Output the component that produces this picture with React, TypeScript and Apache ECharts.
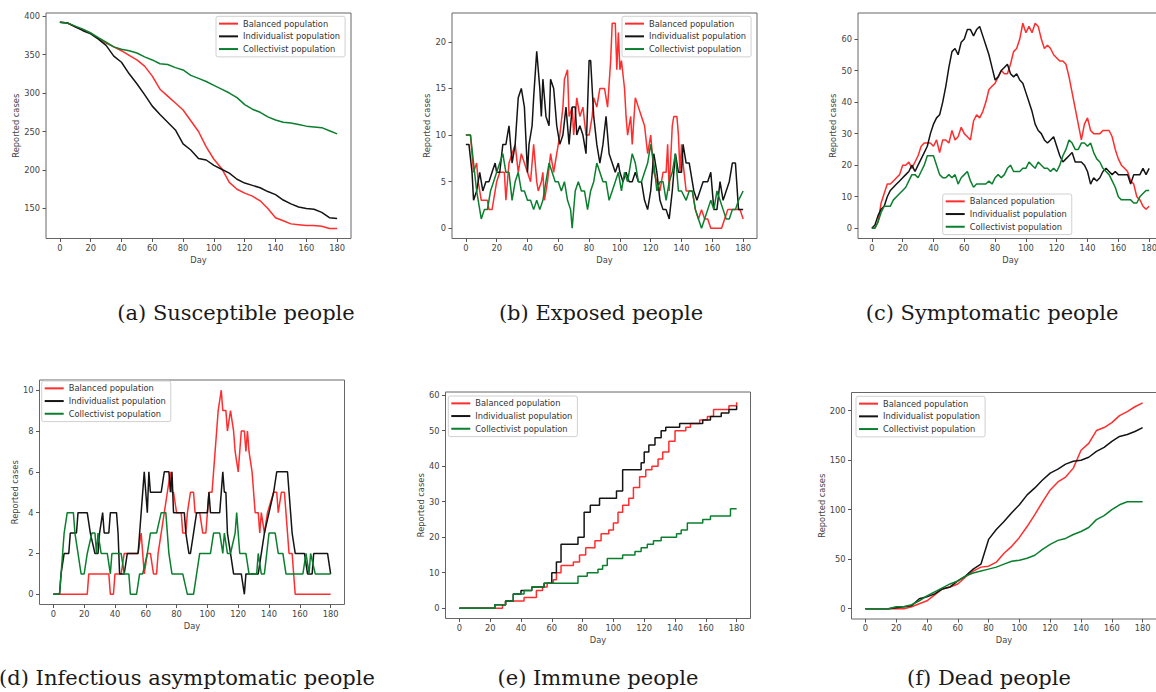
import React, { useEffect, useRef } from "react";
import * as echarts from "echarts";

// Shared series definitions
const SERIES_NAMES = ["Balanced population", "Individualist population", "Collectivist population"];
const SERIES_COLORS = ["#ff2d2d", "#141414", "#0a7f2e"];
const DAY_TICKS = [0, 20, 40, 60, 80, 100, 120, 140, 160, 180];

// (a) Susceptible people, sampled every 5 days
const suscDays = [0, 5, 10, 15, 20, 25, 30, 35, 40, 45, 50, 55, 60, 65, 70, 75, 80, 85, 90, 95, 100, 105, 110, 115, 120, 125, 130, 135, 140, 145, 150, 155, 160, 165, 170, 175, 180];
const suscBalanced = [392, 391, 386, 382, 378, 371, 365, 360, 355, 349, 343, 335, 322, 305, 296, 287, 278, 264, 250, 230, 214, 202, 184, 175, 170, 166, 160, 150, 138, 134, 130, 129, 128, 128, 127, 124, 124];
const suscIndividualist = [392, 391, 386, 381, 377, 370, 362, 348, 340, 325, 312, 298, 283, 272, 262, 252, 234, 226, 215, 213, 206, 201, 196, 188, 183, 180, 177, 172, 168, 161, 156, 152, 150, 149, 145, 138, 137];
const suscCollectivist = [392, 391, 387, 383, 378, 372, 366, 360, 357, 355, 352, 347, 343, 338, 337, 333, 330, 323, 319, 315, 310, 305, 300, 294, 285, 279, 275, 269, 265, 262, 261, 259, 257, 256, 255, 251, 247];

// (b) Exposed people, [day, cases]
const exposedBalanced = [[0,10],[3,10],[5,6],[7,7],[8,5],[10,3],[14,3],[15,2],[17,2],[20,5],[22,6],[25,6],[26,3],[28,7],[30,8],[32,9],[34,6],[36,8],[38,7],[40,6],[42,5],[44,9],[46,5],[47,4],[49,5],[50,6],[51,3],[53,5],[55,8],[57,6],[59,8],[61,10],[63,13],[64,16],[66,17],[67,12],[69,13],[70,10],[72,14],[74,12],[76,13],[78,10],[80,10],[82,12],[83,14],[85,13],[87,15],[90,15],[92,13],[94,18],[95,22],[97,22],[98,17],[99,21],[100,17],[101,18],[103,15],[104,12],[105,10],[107,12],[108,9],[110,14],[112,13],[114,12],[116,11],[118,8],[120,10],[122,6],[124,5],[126,4],[128,6],[130,6],[131,9],[132,4],[134,11],[135,12],[137,12],[138,10],[139,6],[140,9],[141,7],[143,4],[145,4],[147,4],[149,2],[151,1],[153,2],[155,1],[157,1],[159,0],[166,0],[168,1],[170,2],[175,2],[178,2],[180,1]];
const exposedIndividualist = [[0,9],[2,9],[4,6],[5,3],[7,4],[9,6],[11,4],[13,5],[15,5],[17,6],[19,7],[20,6],[22,6],[24,9],[26,9],[28,11],[30,7],[32,9],[34,14],[36,15],[38,13],[40,6],[41,9],[43,11],[44,14],[46,19],[48,15],[49,12],[50,16],[52,12],[54,11],[55,16],[57,15],[59,11],[61,9],[63,10],[65,13],[67,9],[69,13],[71,13],[72,10],[74,11],[76,10],[78,8],[80,18],[81,18],[83,12],[85,9],[87,7],[89,9],[91,12],[93,8],[95,7],[97,6],[99,7],[100,6],[102,5],[104,6],[106,5],[108,5],[110,6],[112,5],[114,5],[116,3],[118,2],[120,4],[122,8],[124,6],[126,3],[128,2],[130,2],[132,1],[134,4],[136,8],[138,6],[140,6],[141,9],[143,7],[145,7],[148,4],[150,3],[152,4],[154,5],[157,5],[159,6],[161,2],[163,2],[165,5],[167,3],[169,4],[171,5],[173,7],[175,7],[177,2],[180,2]];
const exposedCollectivist = [[0,10],[3,10],[5,7],[7,4],[9,2],[10,1],[12,2],[14,2],[16,4],[18,5],[20,6],[22,7],[24,8],[26,6],[28,6],[30,3],[32,5],[34,6],[36,4],[38,4],[40,3],[42,3],[44,2],[46,3],[48,2],[50,3],[52,5],[54,7],[56,6],[58,5],[60,5],[62,4],[64,5],[66,3],[68,2],[69,0],[71,4],[73,5],[75,4],[77,4],[79,2],[81,4],[83,5],[85,7],[87,6],[89,5],[91,5],[93,3],[95,4],[97,5],[99,6],[101,4],[103,6],[105,5],[108,8],[110,7],[112,5],[114,5],[116,6],[118,7],[120,9],[122,7],[124,4],[126,5],[128,5],[130,3],[132,5],[134,6],[136,8],[138,4],[140,4],[143,3],[145,4],[147,4],[149,2],[151,1],[153,0],[155,1],[157,2],[159,3],[161,2],[163,4],[165,3],[167,2],[169,1],[171,1],[173,2],[175,2],[177,3],[180,4]];

// (c) Symptomatic people, sampled every 2 days
const sympDays = [0,2,4,6,8,10,12,14,16,18,20,22,24,26,28,30,32,34,36,38,40,42,44,46,48,50,52,54,56,58,60,62,64,66,68,70,72,74,76,78,80,82,84,86,88,90,92,94,96,98,100,102,104,106,108,110,112,114,116,118,120,122,124,126,128,130,132,134,136,138,140,142,144,146,148,150,152,154,156,158,160,162,164,166,168,170,172,174,176,178,180];
const sympBalanced = [0,0,2,8,11,14,14,15,16,17,20,20,21,19,21,23,26,27,27,27,26,28,24,28,28,27,31,28,29,32,30,29,28,34,36,35,37,40,44,45,46,48,50,49,49,52,56,57,60,65,62,64,62,65,64,60,57,58,57,55,54,53,53,52,48,43,38,33,28,33,35,31,30,30,30,31,31,31,29,25,22,20,19,18,15,14,10,9,7,6,7];
const sympIndividualist = [0,1,4,6,7,10,12,13,14,15,16,17,18,20,18,20,22,24,26,30,33,35,36,40,45,51,56,57,55,59,60,63,63,61,63,64,61,58,55,51,47,48,50,51,52,49,48,49,47,46,43,40,37,33,31,30,28,27,28,29,26,23,21,22,23,24,21,21,21,20,18,14,16,15,16,18,19,18,17,18,17,17,17,17,14,17,17,17,19,17,19];
const sympCollectivist = [0,0,2,5,7,7,7,9,10,11,12,13,15,17,17,16,18,20,23,23,23,20,17,16,16,17,16,17,14,16,17,18,15,13,14,14,14,14,15,14,16,17,16,17,19,20,18,18,18,19,19,21,20,19,21,20,19,19,18,19,18,20,23,25,28,27,25,25,27,27,26,27,24,22,21,19,18,17,15,13,10,9,9,9,9,8,8,10,11,12,12];

// (d) Infectious asymptomatic people, [day, cases]
const asympBalanced = [[0,0],[22,0],[23,1],[36,1],[37,0],[39,0],[40,1],[44,1],[46,2],[55,2],[57,3],[59,1],[61,2],[63,2],[65,1],[67,1],[68,2],[70,3],[72,4],[74,5],[76,6],[77,5],[78,5],[80,4],[83,4],[84,3],[86,3],[87,4],[89,5],[91,5],[92,4],[95,4],[97,3],[99,3],[100,4],[101,5],[103,5],[104,6],[105,7],[106,8],[107,9],[109,10],[110,9],[112,9],[113,8],[115,9],[117,8],[118,7],[120,6],[121,7],[122,8],[124,8],[125,7],[126,8],[127,7],[129,6],[130,5],[131,4],[133,4],[134,3],[135,4],[137,3],[139,4],[143,5],[145,5],[146,4],[148,5],[150,5],[151,4],[153,2],[155,2],[156,1],[157,0],[180,0]];
const asympIndividualist = [[0,0],[4,0],[5,1],[7,2],[10,2],[11,3],[15,3],[16,4],[22,4],[24,3],[27,2],[29,2],[30,3],[32,4],[33,3],[36,3],[37,4],[41,4],[42,3],[43,1],[46,1],[48,2],[55,2],[57,4],[59,6],[61,4],[62,6],[63,5],[70,5],[72,6],[75,6],[76,5],[77,6],[78,4],[85,4],[86,3],[88,2],[89,2],[91,3],[93,4],[100,4],[101,5],[102,4],[108,4],[110,6],[111,5],[112,5],[113,3],[115,2],[117,1],[122,1],[124,0],[125,1],[133,1],[135,2],[137,3],[140,4],[143,5],[145,6],[152,6],[154,4],[155,3],[157,2],[163,2],[165,1],[168,1],[169,2],[178,2],[180,1]];
const asympCollectivist = [[0,0],[4,0],[6,2],[7,3],[9,4],[11,4],[13,4],[14,3],[16,2],[18,1],[20,1],[22,2],[25,3],[27,3],[28,2],[29,3],[31,2],[35,2],[37,1],[38,2],[44,2],[46,1],[49,1],[50,0],[54,0],[56,1],[58,1],[61,2],[63,3],[67,3],[70,4],[73,4],[75,2],[77,1],[84,1],[87,0],[91,0],[93,1],[95,2],[102,2],[104,3],[108,3],[110,2],[111,3],[113,2],[115,2],[118,3],[119,4],[121,2],[125,2],[127,1],[132,1],[133,2],[135,1],[137,1],[140,3],[144,3],[146,2],[149,2],[151,1],[162,1],[164,2],[166,1],[167,2],[170,1],[180,1]];

// (e) Immune people, cumulative step counts [day, cases]
const immuneBalanced = [[0,0],[25,0],[28,1],[30,2],[38,2],[42,3],[50,5],[54,6],[57,7],[61,8],[63,10],[66,12],[74,13],[78,15],[82,17],[88,19],[92,21],[97,22],[100,24],[103,27],[106,29],[110,31],[113,34],[117,37],[121,39],[125,40],[129,42],[132,44],[136,47],[140,50],[147,51],[150,52],[156,53],[161,54],[165,56],[175,57],[180,58]];
const immuneIndividualist = [[0,0],[22,0],[23,1],[30,2],[35,4],[40,5],[47,6],[55,7],[60,10],[63,13],[66,18],[75,18],[77,20],[81,27],[85,29],[91,31],[100,31],[102,33],[106,39],[116,39],[118,41],[120,44],[123,46],[127,48],[131,50],[134,51],[143,52],[155,52],[158,53],[163,54],[170,55],[175,56],[180,57]];
const immuneCollectivist = [[0,0],[22,0],[23,1],[30,2],[35,4],[42,5],[47,6],[55,7],[75,7],[77,9],[83,10],[90,11],[93,12],[96,14],[103,14],[106,15],[114,16],[118,17],[122,18],[126,19],[131,20],[138,20],[141,21],[144,22],[148,24],[155,24],[158,25],[163,26],[172,26],[176,28],[180,28]];

// (f) Dead people, sampled every 5 days
const deadDays = [0, 5, 10, 15, 20, 25, 30, 35, 40, 45, 50, 55, 60, 65, 70, 75, 80, 85, 90, 95, 100, 105, 110, 115, 120, 125, 130, 135, 140, 145, 150, 155, 160, 165, 170, 175, 180];
const deadBalanced = [0, 0, 0, 0, 0, 0, 2, 5, 8, 14, 20, 22, 25, 32, 38, 42, 43, 47, 56, 63, 72, 83, 95, 108, 120, 128, 133, 142, 160, 167, 180, 183, 188, 195, 199, 204, 208];
const deadIndividualist = [0, 0, 0, 0, 1, 2, 3, 10, 12, 15, 20, 22, 28, 33, 40, 45, 70, 80, 88, 97, 105, 115, 122, 130, 137, 141, 146, 149, 150, 153, 159, 163, 169, 174, 176, 179, 183];
const deadCollectivist = [0, 0, 0, 0, 2, 2, 4, 8, 13, 17, 21, 25, 28, 33, 36, 38, 40, 42, 45, 48, 49, 51, 54, 60, 65, 69, 71, 75, 78, 82, 90, 94, 100, 105, 108, 108, 108];

const zipDays = (days: number[], vals: number[]) => days.map((d, i) => [d, vals[i]]);

const panels = [
  {
    grid: { left: 46, top: 13, width: 305, height: 225.5 },
    yMin: 111, yMax: 404, yTicks: [150, 200, 250, 300, 350, 400], yNameGap: 26,
    legend: { left: 216, top: 16.3 },
    caption: { text: "(a) Susceptible people", x: 236, y: 313 },
    data: [zipDays(suscDays, suscBalanced), zipDays(suscDays, suscIndividualist), zipDays(suscDays, suscCollectivist)],
    step: false,
  },
  {
    grid: { left: 452, top: 13, width: 305, height: 225.5 },
    yMin: -1.1, yMax: 23.1, yTicks: [0, 5, 10, 15, 20], yNameGap: 21,
    legend: { left: 622, top: 16.3 },
    caption: { text: "(b) Exposed people", x: 601, y: 313 },
    data: [exposedBalanced, exposedIndividualist, exposedCollectivist],
    step: false,
  },
  {
    grid: { left: 858, top: 13, width: 305, height: 225.5 },
    yMin: -3.25, yMax: 68.25, yTicks: [0, 10, 20, 30, 40, 50, 60], yNameGap: 21,
    legend: { left: 942.7, top: 194 },
    caption: { text: "(c) Symptomatic people", x: 992, y: 313 },
    data: [zipDays(sympDays, sympBalanced), zipDays(sympDays, sympIndividualist), zipDays(sympDays, sympCollectivist)],
    step: false,
  },
  {
    grid: { left: 39.5, top: 380, width: 305, height: 224.5 },
    yMin: -0.5, yMax: 10.5, yTicks: [0, 2, 4, 6, 8, 10], yNameGap: 21,
    legend: { left: 41.7, top: 381 },
    caption: { text: "(d) Infectious asymptomatic people", x: 187, y: 678 },
    data: [asympBalanced, asympIndividualist, asympCollectivist],
    step: false,
  },
  {
    grid: { left: 445.5, top: 392, width: 305, height: 226.5 },
    yMin: -2.9, yMax: 60.9, yTicks: [0, 10, 20, 30, 40, 50, 60], yNameGap: 21,
    legend: { left: 448.3, top: 396 },
    caption: { text: "(e) Immune people", x: 598, y: 678 },
    data: [immuneBalanced, immuneIndividualist, immuneCollectivist],
    step: true,
  },
  {
    grid: { left: 851.5, top: 392.5, width: 305, height: 226.5 },
    yMin: -10.4, yMax: 218.4, yTicks: [0, 50, 100, 150, 200], yNameGap: 26,
    legend: { left: 856, top: 396.3 },
    caption: { text: "(f) Dead people", x: 989, y: 678 },
    data: [zipDays(deadDays, deadBalanced), zipDays(deadDays, deadIndividualist), zipDays(deadDays, deadCollectivist)],
    step: false,
  },
];

const SMALL_FONT = { fontFamily: "DejaVu Sans", fontSize: 8.3, color: "#444" };

export default function App() {
  const ref = useRef<HTMLDivElement>(null);

  useEffect(() => {
    if (!ref.current) return;
    const chart = echarts.init(ref.current, undefined, { renderer: "svg" });

    const grid = panels.map((p) => ({
      ...p.grid,
      show: true,
      borderColor: "#666",
      borderWidth: 1,
      backgroundColor: "transparent",
      containLabel: false,
      outerBoundsMode: "none",
    }));

    const xAxis = panels.map((p, i) => ({
      type: "value",
      gridIndex: i,
      position: "bottom",
      min: -9,
      max: 189,
      name: "Day",
      nameLocation: "middle",
      nameGap: 17,
      nameTextStyle: SMALL_FONT,
      axisLine: { show: false, onZero: false },
      splitLine: { show: false },
      axisTick: { show: true, customValues: DAY_TICKS, length: 3.5, lineStyle: { color: "#555" } },
      axisLabel: { customValues: DAY_TICKS, margin: 5, ...SMALL_FONT },
    }));

    const yAxis = panels.map((p, i) => ({
      type: "value",
      gridIndex: i,
      position: "left",
      min: p.yMin,
      max: p.yMax,
      name: "Reported cases",
      nameLocation: "middle",
      nameRotate: 90,
      nameGap: p.yNameGap,
      nameTextStyle: SMALL_FONT,
      axisLine: { show: false, onZero: false },
      splitLine: { show: false },
      axisTick: { show: true, customValues: p.yTicks, length: 3.5, lineStyle: { color: "#555" } },
      axisLabel: { customValues: p.yTicks, margin: 6, ...SMALL_FONT },
    }));

    const series: any[] = [];
    panels.forEach((p, i) => {
      p.data.forEach((d, k) => {
        series.push({
          type: "line",
          name: SERIES_NAMES[k],
          xAxisIndex: i,
          yAxisIndex: i,
          data: d,
          step: p.step ? "end" : false,
          showSymbol: false,
          symbol: "none",
          itemStyle: { color: SERIES_COLORS[k] },
          lineStyle: { color: SERIES_COLORS[k], width: 1.5 },
          z: 2 + k,
        });
      });
    });

    const legend = panels.map((p) => ({
      left: p.legend.left,
      top: p.legend.top,
      orient: "vertical",
      data: SERIES_NAMES,
      icon: "rect",
      itemWidth: 19,
      itemHeight: 2,
      itemGap: 0,
      selectedMode: false,
      padding: [1, 5, 1.5, 3],
      borderColor: "#d0d0d0",
      borderWidth: 1,
      borderRadius: 2,
      backgroundColor: "rgba(255,255,255,0.85)",
      textStyle: { fontFamily: "DejaVu Sans", fontSize: 8.3, color: "#333", lineHeight: 12.7 },
    }));

    const graphic = panels.map((p) => ({
      type: "text",
      x: p.caption.x,
      y: p.caption.y,
      style: {
        text: p.caption.text,
        fill: "#1a1a1a",
        font: '21px "DejaVu Serif"',
        textAlign: "center",
        textVerticalAlign: "middle",
      },
    }));

    chart.setOption({
      animation: false,
      backgroundColor: "#ffffff",
      grid,
      xAxis,
      yAxis,
      legend,
      series,
      graphic,
    } as any);

    return () => chart.dispose();
  }, []);

  return (
    <div
      ref={ref}
      style={{ position: "fixed", left: 0, top: 0, width: 1156, height: 692, background: "#fff" }}
    />
  );
}
